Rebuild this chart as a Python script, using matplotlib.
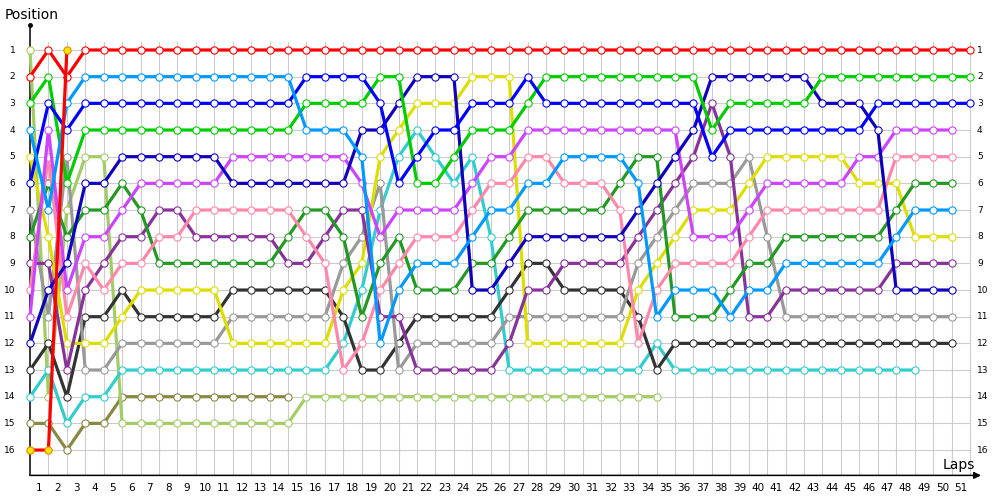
import matplotlib
matplotlib.use("Agg")
import matplotlib.pyplot as plt

# positions per lap, starting at lap 0 (grid)
red = [2, 1, 2, 1, 1, 1, 1, 1, 1, 1,
       1, 1, 1, 1, 1, 1, 1, 1, 1, 1,
       1, 1, 1, 1, 1, 1, 1, 1, 1, 1,
       1, 1, 1, 1, 1, 1, 1, 1, 1, 1,
       1, 1, 1, 1, 1, 1, 1, 1, 1, 1,
       1, 1]
red_yellow = [16, 16, 1]
light_green = [1, 14, 7, 5, 5, 15, 15, 15, 15, 15,
               15, 15, 15, 15, 15, 14, 14, 14, 14, 14,
               14, 14, 14, 14, 14, 14, 14, 14, 14, 14,
               14, 14, 14, 14, 14]
olive = [15, 15, 16, 15, 15, 14, 14, 14, 14, 14,
         14, 14, 14, 14, 14]
green = [3, 2, 6, 4, 4, 4, 4, 4, 4, 4,
         4, 4, 4, 4, 4, 3, 3, 3, 3, 2,
         2, 6, 6, 5, 4, 4, 4, 3, 2, 2,
         2, 2, 2, 2, 2, 2, 2, 4, 3, 3,
         3, 3, 3, 2, 2, 2, 2, 2, 2, 2,
         2, 2]
light_blue = [4, 7, 3, 2, 2, 2, 2, 2, 2, 2,
              2, 2, 2, 2, 2, 4, 4, 4, 5, 12,
              10, 9, 9, 9, 8, 7, 7, 6, 6, 5,
              5, 5, 5, 6, 11, 10, 10, 10, 11, 10,
              10, 9, 9, 9, 9, 9, 9, 8, 7, 7,
              7]
blue = [6, 3, 4, 3, 3, 3, 3, 3, 3, 3,
        3, 3, 3, 3, 3, 2, 2, 2, 2, 3,
        6, 5, 4, 4, 3, 3, 3, 2, 3, 3,
        3, 3, 3, 3, 3, 3, 3, 5, 4, 4,
        4, 4, 4, 4, 4, 4, 3, 3, 3, 3,
        3, 3]
yellow = [5, 8, 12, 12, 12, 11, 10, 10, 10, 10,
          10, 12, 12, 12, 12, 12, 12, 10, 9, 5,
          4, 3, 3, 3, 2, 2, 2, 12, 12, 12,
          12, 12, 12, 10, 9, 8, 7, 7, 7, 6,
          5, 5, 5, 5, 5, 6, 6, 6, 8, 8,
          8]
gray = [7, 11, 5, 13, 13, 12, 12, 12, 12, 12,
        12, 11, 11, 11, 11, 11, 11, 9, 8, 6,
        13, 12, 12, 12, 12, 12, 11, 11, 11, 11,
        11, 11, 11, 9, 8, 7, 6, 6, 6, 5,
        8, 11, 11, 11, 11, 11, 11, 11, 11, 11,
        11]
dark_green = [8, 6, 8, 7, 7, 6, 7, 9, 9, 9,
              9, 9, 9, 9, 8, 7, 7, 8, 11, 9,
              8, 10, 10, 10, 9, 9, 8, 7, 7, 7,
              7, 7, 6, 5, 5, 11, 11, 11, 10, 9,
              9, 8, 8, 8, 8, 8, 8, 7, 6, 6,
              6]
purple = [9, 9, 13, 10, 9, 8, 8, 7, 7, 8,
          8, 8, 8, 8, 9, 9, 8, 7, 7, 11,
          11, 13, 13, 13, 13, 13, 12, 10, 10, 9,
          9, 9, 9, 8, 7, 6, 5, 3, 5, 11,
          11, 10, 10, 10, 10, 10, 10, 9, 9, 9,
          9]
pink = [10, 5, 11, 9, 10, 9, 9, 8, 8, 7,
        7, 7, 7, 7, 7, 8, 9, 13, 12, 10,
        9, 8, 8, 8, 7, 6, 6, 5, 5, 6,
        6, 6, 7, 12, 10, 9, 9, 9, 9, 8,
        7, 7, 7, 7, 7, 7, 7, 5, 5, 5,
        5]
violet = [11, 4, 10, 8, 8, 7, 6, 6, 6, 6,
          6, 5, 5, 5, 5, 5, 5, 5, 6, 8,
          7, 7, 7, 7, 6, 5, 5, 4, 4, 4,
          4, 4, 4, 4, 4, 4, 8, 8, 8, 7,
          6, 6, 6, 6, 6, 5, 5, 4, 4, 4,
          4]
navy = [12, 10, 9, 6, 6, 5, 5, 5, 5, 5,
        5, 6, 6, 6, 6, 6, 6, 6, 4, 4,
        3, 2, 2, 2, 10, 10, 9, 8, 8, 8,
        8, 8, 8, 7, 6, 5, 4, 2, 2, 2,
        2, 2, 2, 3, 3, 3, 4, 10, 10, 10,
        10]
black = [13, 12, 14, 11, 11, 10, 11, 11, 11, 11,
         11, 10, 10, 10, 10, 10, 10, 11, 13, 13,
         12, 11, 11, 11, 11, 11, 10, 9, 9, 10,
         10, 10, 10, 11, 13, 12, 12, 12, 12, 12,
         12, 12, 12, 12, 12, 12, 12, 12, 12, 12,
         12]
cyan = [14, 13, 15, 14, 14, 13, 13, 13, 13, 13,
        13, 13, 13, 13, 13, 13, 13, 12, 10, 7,
        5, 4, 5, 6, 5, 8, 13, 13, 13, 13,
        13, 13, 13, 13, 12, 13, 13, 13, 13, 13,
        13, 13, 13, 13, 13, 13, 13, 13, 13]

series = [
    (olive, '#888844'),
    (light_green, '#a3cc66'),
    (cyan, '#33cccc'),
    (black, '#333333'),
    (gray, '#999999'),
    (yellow, '#dddd00'),
    (purple, '#883399'),
    (dark_green, '#229922'),
    (pink, '#ff88aa'),
    (violet, '#cc44ff'),
    (navy, '#1100bb'),
    (green, '#00cc00'),
    (blue, '#0000ff'),
    (light_blue, '#0099ff'),
    (red, '#ff0000'),
]

n_laps = 51
n_pos = 16
grid_col = '#cccccc'

fig = plt.figure(figsize=(10, 5), dpi=100)
ax = fig.add_axes([0, 0, 1, 1])
ax.set_xlim(-30 / 18.43, 970 / 18.43)
ax.set_ylim(1 + 450 / 26.67, 1 - 50 / 26.67)
ax.axis('off')

# grid
for k in range(1, n_laps + 1):
    ax.plot([k, k], [0.7, 16.95], color=grid_col, lw=0.8, zorder=1)
for p in range(1, n_pos + 1):
    ax.plot([0, n_laps], [p, p], color=grid_col, lw=0.8, zorder=1)

# axes
ax.plot([0, 0], [0.06, 16.95], color='black', lw=1.1, zorder=2)
ax.plot([0], [0.06], 'o', color='black', ms=2.5, zorder=2)
ax.annotate('', xy=(51.6, 16.95), xytext=(0, 16.95),
            arrowprops=dict(arrowstyle='-|>', color='black', lw=1.1,
                            mutation_scale=10, shrinkA=0, shrinkB=0),
            zorder=2)

for vals, col in series:
    ax.plot(range(len(vals)), vals, color=col, lw=2.3, marker='o', ms=5.2,
            mfc='white', mec=col, mew=0.8, zorder=3, solid_joinstyle='round')

ax.plot(range(len(red_yellow)), red_yellow, color='#ff0000', lw=2.3,
        marker='o', ms=5.2, mfc='#ffe600', mec='#e08a00', mew=0.8, zorder=4)

# labels
for k in range(1, n_laps + 1):
    ax.text(k - 0.5, 17.42, str(k), ha='center', va='center', fontsize=7.5)
for p in range(1, n_pos + 1):
    ax.text(-0.79, p, str(p), ha='right', va='center', fontsize=6.5)
    ax.text(51.38, p, str(p), ha='left', va='center', fontsize=6.5)

ax.text(-1.4, -0.31, 'Position', ha='left', va='center', fontsize=10)
ax.text(49.54, 16.55, 'Laps', ha='left', va='center', fontsize=10)

fig.savefig('out.png', dpi=100)
